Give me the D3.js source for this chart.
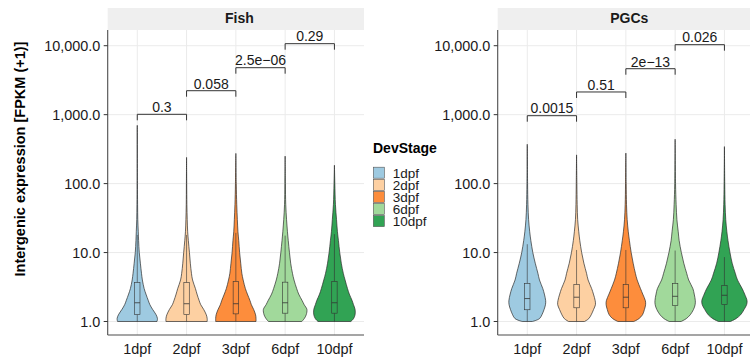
<!DOCTYPE html>
<html>
<head>
<meta charset="utf-8">
<script src="https://cdn.jsdelivr.net/npm/d3@7"></script>
<style>
    body { margin: 0; background: #fff; }
    svg { font-family: "Liberation Sans", Arial, Helvetica, sans-serif; }
</style>
</head>
<body>
<div id="chart"></div>
<script>
// developmental stages and their fill colours
const stages = ['1dpf', '2dpf', '3dpf', '6dpf', '10dpf'];
const stageColors = ['#9ecae1', '#fdd0a2', '#fd8d3c', '#a1d99b', '#31a354'];

const yTicks = [1, 10, 100, 1000, 10000];

const levels = [1, 1.1, 1.25, 1.5, 1.75, 2, 2.5, 3, 4, 5, 7, 10, 15, 20, 30, 50, 100];

// Fish panel
const fishDensity = [
    [0.89, 0.91, 0.85, 0.69, 0.57, 0.50, 0.39, 0.31, 0.23, 0.19, 0.14, 0.09, 0.06, 0.045, 0.023, 0.014, 0.007],
    [0.93, 0.93, 0.89, 0.77, 0.64, 0.57, 0.47, 0.40, 0.27, 0.22, 0.17, 0.13, 0.08, 0.05, 0.03, 0.014, 0.007],
    [0.91, 0.91, 0.89, 0.80, 0.70, 0.64, 0.52, 0.43, 0.33, 0.27, 0.22, 0.17, 0.13, 0.095, 0.068, 0.04, 0.018],
    [0.75, 0.86, 0.95, 0.98, 0.86, 0.77, 0.61, 0.52, 0.40, 0.33, 0.25, 0.195, 0.14, 0.105, 0.064, 0.027, 0.011],
    [0.74, 0.86, 0.93, 0.93, 0.86, 0.80, 0.67, 0.59, 0.48, 0.40, 0.31, 0.24, 0.18, 0.136, 0.095, 0.045, 0.018]
];
const fishMax = [700, 240, 274, 250, 185];
const fishQ1 = [1.26, 1.26, 1.29, 1.32, 1.32];
const fishMedian = [1.87, 1.81, 1.81, 1.87, 1.87];
const fishQ3 = [3.66, 3.66, 3.81, 3.72, 3.8];
const fishWhisker = [18, 18, 19.3, 17.6, 18.5];
const fishPvalues = ['0.3', '0.058', '2.5e\u221206', '0.29'];
const fishBracketY = [1012, 2225, 4800, 10700];

// PGCs panel
const pgcDensity = [
    [0.23, 0.55, 0.66, 0.76, 0.82, 0.83, 0.77, 0.70, 0.55, 0.48, 0.36, 0.25, 0.16, 0.11, 0.06, 0.03, 0.014],
    [0.36, 0.55, 0.66, 0.77, 0.85, 0.84, 0.76, 0.68, 0.52, 0.45, 0.33, 0.23, 0.145, 0.10, 0.05, 0.027, 0.014],
    [0.36, 0.59, 0.75, 0.84, 0.89, 0.88, 0.76, 0.66, 0.51, 0.43, 0.33, 0.24, 0.16, 0.11, 0.06, 0.03, 0.014],
    [0.27, 0.50, 0.68, 0.83, 0.90, 0.91, 0.86, 0.80, 0.61, 0.52, 0.39, 0.28, 0.18, 0.14, 0.08, 0.045, 0.018],
    [0.27, 0.52, 0.73, 0.89, 1.0, 1.02, 0.91, 0.80, 0.59, 0.49, 0.35, 0.25, 0.16, 0.11, 0.06, 0.03, 0.014]
];
const pgcMax = [372, 261, 277, 440, 344];
const pgcQ1 = [1.48, 1.58, 1.58, 1.7, 1.76];
const pgcMedian = [2.15, 2.25, 2.25, 2.32, 2.4];
const pgcQ3 = [3.55, 3.43, 3.43, 3.55, 3.32];
const pgcWhisker = [13.2, 10.9, 10.9, 10.7, 8.6];
const pgcPvalues = ['0.0015', '0.51', '2e\u221213', '0.026'];
const pgcBracketY = [966, 2133, 4640, 10350];


class ViolinPanel {
    constructor(svg, left, title, data) {
        this.svg = svg;
        this.left = left;
        this.title = title;
        this.data = data;

        this.initVis();
    }

    initVis() {
        let vis = this;

        vis.width = 256.3;
        vis.top = 30;
        vis.bottom = 335;

        vis.x = d3.scalePoint()
            .domain(stages)
            .range([vis.left, vis.left + vis.width])
            .padding(0.6);

        vis.y = d3.scaleLog()
            .domain([0.637, 16900])
            .range([vis.bottom, vis.top]);

        vis.colorScale = d3.scaleOrdinal()
            .domain(stages)
            .range(stageColors);

        vis.g = vis.svg.append('g');

        // strip on top
        vis.g.append('rect')
            .attr('x', vis.left)
            .attr('y', 8)
            .attr('width', vis.width)
            .attr('height', vis.top - 8)
            .attr('fill', '#efefef');
        vis.g.append('text')
            .attr('x', vis.left + vis.width / 2 + 3.5)
            .attr('y', 22.7)
            .attr('text-anchor', 'middle')
            .attr('font-size', 14)
            .attr('font-weight', 'bold')
            .attr('fill', '#1a1a1a')
            .text(vis.title);

        // grid
        vis.g.selectAll('.hgrid')
            .data(yTicks)
            .enter().append('line')
            .attr('x1', vis.left).attr('x2', vis.left + vis.width)
            .attr('y1', d => vis.y(d)).attr('y2', d => vis.y(d))
            .attr('stroke', '#ebebeb').attr('stroke-width', 1);
        vis.g.selectAll('.vgrid')
            .data(stages)
            .enter().append('line')
            .attr('x1', d => vis.x(d)).attr('x2', d => vis.x(d))
            .attr('y1', vis.top).attr('y2', vis.bottom)
            .attr('stroke', '#ebebeb').attr('stroke-width', 1);

        vis.wrangleData();
    }

    wrangleData() {
        let vis = this;

        vis.displayData = stages.map((s, i) => {
            let pts = levels
                .map((v, j) => ({value: v, density: vis.data.density[i][j]}))
                .filter(d => d.value < vis.data.max[i]);
            pts.push({value: vis.data.max[i], density: 0});
            return {
                stage: s,
                points: pts,
                q1: vis.data.q1[i],
                median: vis.data.median[i],
                q3: vis.data.q3[i],
                whisker: vis.data.whisker[i]
            };
        });

        vis.updateVis();
    }

    updateVis() {
        let vis = this;

        let halfMax = vis.x.step() * 0.45;
        let boxW = vis.x.step() * 0.11;

        // violins
        vis.g.selectAll('.violin')
            .data(vis.displayData)
            .enter().append('path')
            .attr('class', 'violin')
            .attr('d', d => {
                let cx = vis.x(d.stage);
                return d3.area()
                    .curve(d3.curveCatmullRom)
                    .y(p => vis.y(p.value))
                    .x0(p => cx - p.density * halfMax)
                    .x1(p => cx + p.density * halfMax)(d.points);
            })
            .attr('fill', d => vis.colorScale(d.stage))
            .attr('stroke', '#2b2b2b')
            .attr('stroke-width', 0.7);

        // boxplots
        let boxes = vis.g.selectAll('.box')
            .data(vis.displayData)
            .enter().append('g')
            .attr('class', 'box');

        boxes.append('line')
            .attr('x1', d => vis.x(d.stage)).attr('x2', d => vis.x(d.stage))
            .attr('y1', d => vis.y(d.q3)).attr('y2', d => vis.y(d.whisker))
            .attr('stroke', '#333').attr('stroke-width', 0.6);
        boxes.append('line')
            .attr('x1', d => vis.x(d.stage)).attr('x2', d => vis.x(d.stage))
            .attr('y1', d => vis.y(d.q1)).attr('y2', d => vis.y(1))
            .attr('stroke', '#333').attr('stroke-width', 0.6);
        boxes.append('rect')
            .attr('x', d => vis.x(d.stage) - boxW / 2)
            .attr('width', boxW)
            .attr('y', d => vis.y(d.q3))
            .attr('height', d => vis.y(d.q1) - vis.y(d.q3))
            .attr('fill', d => vis.colorScale(d.stage))
            .attr('stroke', '#333').attr('stroke-width', 0.6);
        boxes.append('line')
            .attr('x1', d => vis.x(d.stage) - boxW / 2).attr('x2', d => vis.x(d.stage) + boxW / 2)
            .attr('y1', d => vis.y(d.median)).attr('y2', d => vis.y(d.median))
            .attr('stroke', '#333').attr('stroke-width', 0.8);

        // significance brackets between neighbouring stages
        let brackets = vis.g.selectAll('.bracket')
            .data(vis.data.pvalues.map((p, i) => ({p: p, a: stages[i], b: stages[i + 1], yv: vis.data.bracketY[i]})))
            .enter().append('g')
            .attr('class', 'bracket');

        brackets.append('path')
            .attr('d', d => {
                let yy = vis.y(d.yv);
                return `M${vis.x(d.a)},${yy + 6}V${yy}H${vis.x(d.b)}V${yy + 6}`;
            })
            .attr('fill', 'none')
            .attr('stroke', '#333')
            .attr('stroke-width', 1);
        brackets.append('text')
            .attr('x', d => (vis.x(d.a) + vis.x(d.b)) / 2)
            .attr('y', d => vis.y(d.yv) - 2.2)
            .attr('text-anchor', 'middle')
            .attr('font-size', 14)
            .attr('fill', '#1a1a1a')
            .text(d => d.p);

        // axes
        vis.g.append('line')
            .attr('x1', vis.left).attr('x2', vis.left)
            .attr('y1', vis.top).attr('y2', vis.bottom)
            .attr('stroke', '#4d4d4d').attr('stroke-width', 1.1);
        vis.g.append('line')
            .attr('x1', vis.left).attr('x2', vis.left + vis.width)
            .attr('y1', vis.bottom).attr('y2', vis.bottom)
            .attr('stroke', '#4d4d4d').attr('stroke-width', 1.1);

        vis.g.selectAll('.ytick')
            .data(yTicks)
            .enter().append('line')
            .attr('x1', vis.left - 4).attr('x2', vis.left)
            .attr('y1', d => vis.y(d)).attr('y2', d => vis.y(d))
            .attr('stroke', '#333').attr('stroke-width', 1);
        vis.g.selectAll('.ylabel')
            .data(yTicks)
            .enter().append('text')
            .attr('x', vis.left - 7.5)
            .attr('y', d => vis.y(d))
            .attr('dy', '0.36em')
            .attr('text-anchor', 'end')
            .attr('font-size', 14.4)
            .attr('fill', '#1a1a1a')
            .text(d => d3.format(',.1f')(d));

        vis.g.selectAll('.xlabel')
            .data(stages)
            .enter().append('text')
            .attr('x', d => vis.x(d))
            .attr('y', 354.3)
            .attr('text-anchor', 'middle')
            .attr('font-size', 14.4)
            .attr('fill', '#1a1a1a')
            .text(d => d);
    }
}

let svg = d3.select('#chart').append('svg')
    .attr('width', 750)
    .attr('height', 362);

new ViolinPanel(svg, 107.7, 'Fish', {
    density: fishDensity, max: fishMax, q1: fishQ1, median: fishMedian,
    q3: fishQ3, whisker: fishWhisker, pvalues: fishPvalues, bracketY: fishBracketY
});
new ViolinPanel(svg, 497.7, 'PGCs', {
    density: pgcDensity, max: pgcMax, q1: pgcQ1, median: pgcMedian,
    q3: pgcQ3, whisker: pgcWhisker, pvalues: pgcPvalues, bracketY: pgcBracketY
});

// y axis title
svg.append('text')
    .attr('transform', 'translate(24.5,159) rotate(-90)')
    .attr('text-anchor', 'middle')
    .attr('font-size', 14.5)
    .attr('font-weight', 'bold')
    .attr('fill', '#000')
    .text('Intergenic expression [FPKM (+1)]');

// legend (rows are tight, as in the original)
let legend = svg.append('g');
legend.append('text')
    .attr('x', 373)
    .attr('y', 153)
    .attr('font-size', 14)
    .attr('font-weight', 'bold')
    .attr('fill', '#000')
    .text('DevStage');

let rows = legend.selectAll('.row')
    .data(stages)
    .enter().append('g')
    .attr('transform', (d, i) => 'translate(373.3,' + (172.7 + i * 12.1) + ')');
rows.append('rect')
    .attr('x', 0).attr('y', -5.5)
    .attr('width', 11).attr('height', 11)
    .attr('fill', (d, i) => stageColors[i])
    .attr('stroke', '#555').attr('stroke-width', 0.6);
rows.append('text')
    .attr('x', 19.4)
    .attr('dy', '0.36em')
    .attr('font-size', 13.5)
    .attr('fill', '#1a1a1a')
    .text(d => d);
</script>
</body>
</html>
